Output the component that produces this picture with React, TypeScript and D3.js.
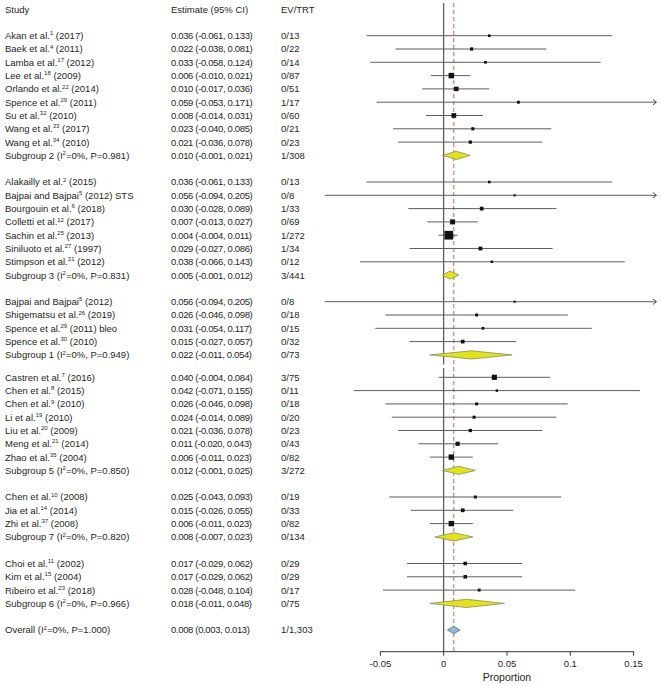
import React from "react";
import * as d3 from "d3";

type Study = {
  name: string;
  sup: string;
  tail: string;
  est: number;
  lo: number;
  hi: number;
  ev: number;
  n: number;
  printedLo?: number;
};

type Summary = {
  label: string;
  i2: number;
  p: number;
  est: number;
  lo: number;
  hi: number;
  ev: number;
  n: number;
};

const subgroup2: Study[] = [
  { name: "Akan et al.", sup: "1", tail: " (2017)", est: 0.036, lo: -0.061, hi: 0.133, ev: 0, n: 13 },
  { name: "Baek et al.", sup: "4", tail: " (2011)", est: 0.022, lo: -0.038, hi: 0.081, ev: 0, n: 22 },
  { name: "Lamba et al.", sup: "17", tail: " (2012)", est: 0.033, lo: -0.058, hi: 0.124, ev: 0, n: 14 },
  { name: "Lee et al.", sup: "18", tail: " (2009)", est: 0.006, lo: -0.01, hi: 0.021, ev: 0, n: 87 },
  { name: "Orlando et al.", sup: "22", tail: " (2014)", est: 0.01, lo: -0.017, hi: 0.036, ev: 0, n: 51 },
  { name: "Spence et al.", sup: "29", tail: " (2011)", est: 0.059, lo: -0.053, hi: 0.171, ev: 1, n: 17 },
  { name: "Su et al.", sup: "32", tail: " (2010)", est: 0.008, lo: -0.014, hi: 0.031, ev: 0, n: 60 },
  { name: "Wang et al.", sup: "33", tail: " (2017)", est: 0.023, lo: -0.04, hi: 0.085, ev: 0, n: 21 },
  { name: "Wang et al.", sup: "34", tail: " (2010)", est: 0.021, lo: -0.036, hi: 0.078, ev: 0, n: 23 },
];

const subgroup3: Study[] = [
  { name: "Alakailly et al.", sup: "2", tail: " (2015)", est: 0.036, lo: -0.061, hi: 0.133, ev: 0, n: 13 },
  { name: "Bajpai and Bajpai", sup: "5", tail: " (2012) STS", est: 0.056, lo: -0.094, hi: 0.205, ev: 0, n: 8 },
  { name: "Bourgouin et al.", sup: "6", tail: " (2018)", est: 0.03, lo: -0.028, hi: 0.089, ev: 1, n: 33 },
  { name: "Colletti et al.", sup: "12", tail: " (2017)", est: 0.007, lo: -0.013, hi: 0.027, ev: 0, n: 69 },
  { name: "Sachin et al.", sup: "25", tail: " (2013)", est: 0.004, lo: -0.004, hi: 0.011, ev: 1, n: 272 },
  { name: "Siniluoto et al.", sup: "27", tail: " (1997)", est: 0.029, lo: -0.027, hi: 0.086, ev: 1, n: 34 },
  { name: "Stimpson et al.", sup: "31", tail: " (2012)", est: 0.038, lo: -0.066, hi: 0.143, ev: 0, n: 12 },
];

const subgroup1: Study[] = [
  { name: "Bajpai and Bajpai", sup: "5", tail: " (2012)", est: 0.056, lo: -0.094, hi: 0.205, ev: 0, n: 8 },
  { name: "Shigematsu et al.", sup: "26", tail: " (2019)", est: 0.026, lo: -0.046, hi: 0.098, ev: 0, n: 18 },
  { name: "Spence et al.", sup: "29", tail: " (2011) bleo", est: 0.031, lo: -0.054, hi: 0.117, ev: 0, n: 15 },
  { name: "Spence et al.", sup: "30", tail: " (2010)", est: 0.015, lo: -0.027, hi: 0.057, ev: 0, n: 32 },
];

const subgroup5: Study[] = [
  { name: "Castren et al.", sup: "7", tail: " (2016)", est: 0.04, lo: -0.004, hi: 0.084, ev: 3, n: 75 },
  { name: "Chen et al.", sup: "8", tail: " (2015)", est: 0.042, lo: -0.071, hi: 0.155, ev: 0, n: 11 },
  { name: "Chen et al.", sup: "9", tail: " (2010)", est: 0.026, lo: -0.046, hi: 0.098, ev: 0, n: 18 },
  { name: "Li et al.", sup: "19", tail: " (2010)", est: 0.024, lo: -0.041, hi: 0.089, ev: 0, n: 20, printedLo: -0.014 },
  { name: "Liu et al.", sup: "20", tail: " (2009)", est: 0.021, lo: -0.036, hi: 0.078, ev: 0, n: 23 },
  { name: "Meng et al.", sup: "21", tail: " (2014)", est: 0.011, lo: -0.02, hi: 0.043, ev: 0, n: 43 },
  { name: "Zhao et al.", sup: "35", tail: " (2004)", est: 0.006, lo: -0.011, hi: 0.023, ev: 0, n: 82 },
];

const subgroup7: Study[] = [
  { name: "Chen et al.", sup: "10", tail: " (2008)", est: 0.025, lo: -0.043, hi: 0.093, ev: 0, n: 19 },
  { name: "Jia et al.", sup: "14", tail: " (2014)", est: 0.015, lo: -0.026, hi: 0.055, ev: 0, n: 33 },
  { name: "Zhi et al.", sup: "37", tail: " (2008)", est: 0.006, lo: -0.011, hi: 0.023, ev: 0, n: 82 },
];

const subgroup6: Study[] = [
  { name: "Choi et al.", sup: "11", tail: " (2002)", est: 0.017, lo: -0.029, hi: 0.062, ev: 0, n: 29 },
  { name: "Kim et al.", sup: "15", tail: " (2004)", est: 0.017, lo: -0.029, hi: 0.062, ev: 0, n: 29 },
  { name: "Ribeiro et al.", sup: "23", tail: " (2018)", est: 0.028, lo: -0.048, hi: 0.104, ev: 0, n: 17 },
];

const summaries: Summary[] = [
  { label: "Subgroup 2", i2: 0, p: 0.981, est: 0.01, lo: -0.001, hi: 0.021, ev: 1, n: 308 },
  { label: "Subgroup 3", i2: 0, p: 0.831, est: 0.005, lo: -0.001, hi: 0.012, ev: 3, n: 441 },
  { label: "Subgroup 1", i2: 0, p: 0.949, est: 0.022, lo: -0.011, hi: 0.054, ev: 0, n: 73 },
  { label: "Subgroup 5", i2: 0, p: 0.85, est: 0.012, lo: -0.001, hi: 0.025, ev: 3, n: 272 },
  { label: "Subgroup 7", i2: 0, p: 0.82, est: 0.008, lo: -0.007, hi: 0.023, ev: 0, n: 134 },
  { label: "Subgroup 6", i2: 0, p: 0.966, est: 0.018, lo: -0.011, hi: 0.048, ev: 0, n: 75 },
];

const overall: Summary = { label: "Overall", i2: 0, p: 1.0, est: 0.008, lo: 0.003, hi: 0.013, ev: 1, n: 1303 };

const groups: Study[][] = [subgroup2, subgroup3, subgroup1, subgroup5, subgroup7, subgroup6];

const xTicks = [-0.05, 0, 0.05, 0.1, 0.15];
const xTickLabels = ["-0.05", "0", "0.05", "0.1", "0.15"];
const pooledRef = 0.008;

const headers = ["Study", "Estimate (95% CI)", "EV/TRT"];

const FONT = "'Liberation Sans', Arial, sans-serif";

export default function App() {
  const W = 662;
  const H = 686;
  const x = d3.scaleLinear().domain([0, 0.05]).range([443.7, 507]);
  const clipHi = 0.168;
  const axisY = 651.7;
  const rowStep = 13.3;
  const row0 = 35.7;
  const breakAfter = 25;
  const rowY = (i: number) => row0 + i * rowStep - (i > breakAfter ? 4.2 : 0);
  const size = d3.scalePow().exponent(0.4).domain([0, 272]).range([0, 8.7]);
  const f3raw = d3.format(".3f");
  const f3 = (v: number) => f3raw(v).replace("\u2212", "-");
  const fc = d3.format(",");
  const colStudy = 5;
  const colEst = 171;
  const colEv = 281;
  const fs = 9.5;
  const textColor = "#231f20";

  type Row =
    | { kind: "study"; i: number; s: Study }
    | { kind: "sum"; i: number; s: Summary; overall: boolean };
  const rows: Row[] = [];
  let idx = 0;
  groups.forEach((g, gi) => {
    g.forEach((s) => rows.push({ kind: "study", i: idx++, s }));
    rows.push({ kind: "sum", i: idx++, s: summaries[gi], overall: false });
    idx++;
  });
  rows.push({ kind: "sum", i: idx, s: overall, overall: true });

  const estText = (est: number, lo: number, hi: number) => `${f3(est)} (${f3(lo)}, ${f3(hi)})`;

  const gapMid = (rowY(24) + rowY(26)) / 2;
  const topY = 3;

  return (
    <svg
      width={W}
      height={H}
      style={{ position: "absolute", left: 0, top: 0, background: "#fff" }}
      fontFamily={FONT}
      fontSize={fs}
    >
      <rect x={0} y={0} width={W} height={H} fill="#fff" />
      {headers.map((h, k) => (
        <text key={h} x={[colStudy, colEst, colEv][k]} y={10} dy="0.36em" fill={textColor}>
          {h}
        </text>
      ))}

      <line x1={x(0)} x2={x(0)} y1={topY} y2={gapMid - 1.5} stroke="#333" strokeWidth={1} />
      <line x1={x(0)} x2={x(0)} y1={gapMid + 2} y2={axisY} stroke="#333" strokeWidth={1} />
      <line
        x1={x(pooledRef)}
        x2={x(pooledRef)}
        y1={topY}
        y2={axisY}
        stroke="#e4574f"
        strokeWidth={1}
        strokeDasharray="4 3"
      />

      {rows.map((r) => {
        const y = rowY(r.i);
        if (r.kind === "study") {
          const s = r.s;
          const hiC = Math.min(s.hi, clipHi);
          const sz = size(s.n);
          const arrow = s.hi > clipHi;
          return (
            <g key={"r" + r.i}>
              <text x={colStudy} y={y} dy="0.36em" fill={textColor}>
                {s.name}
                <tspan fontSize={6} dy={-3.8}>
                  {s.sup}
                </tspan>
                <tspan dy={3.8}>{s.tail}</tspan>
              </text>
              <text x={colEst} y={y} dy="0.36em" fill={textColor} letterSpacing={-0.35}>
                {estText(s.est, s.printedLo ?? s.lo, s.hi)}
              </text>
              <text x={colEv} y={y} dy="0.36em" fill={textColor}>
                {`${s.ev}/${fc(s.n)}`}
              </text>
              <line x1={x(s.lo)} x2={x(hiC)} y1={y} y2={y} stroke="#5e5e5e" strokeWidth={1} />
              {arrow && (
                <polyline
                  points={`${x(hiC) - 3.5},${y - 2.8} ${x(hiC)},${y} ${x(hiC) - 3.5},${y + 2.8}`}
                  fill="none"
                  stroke="#444"
                  strokeWidth={1}
                />
              )}
              <rect x={x(s.est) - sz / 2} y={y - sz / 2} width={sz} height={sz} fill="#111" />
            </g>
          );
        }
        const s = r.s;
        const h = r.overall ? 3.8 : 4.1;
        const pts = `${x(s.lo)},${y} ${x(s.est)},${y - h} ${x(s.hi)},${y} ${x(s.est)},${y + h}`;
        return (
          <g key={"r" + r.i}>
            <text x={colStudy} y={y} dy="0.36em" fill={textColor}>
              {`${s.label} (I`}
              <tspan fontSize={6} dy={-3.8}>
                2
              </tspan>
              <tspan dy={3.8}>{`=${s.i2}%, P=${f3(s.p)})`}</tspan>
            </text>
            <text x={colEst} y={y} dy="0.36em" fill={textColor} letterSpacing={-0.35}>
              {estText(s.est, s.lo, s.hi)}
            </text>
            <text x={colEv} y={y} dy="0.36em" fill={textColor}>
              {`${s.ev}/${fc(s.n)}`}
            </text>
            <polygon
              points={pts}
              fill={r.overall ? "#8dbccf" : "#e2e21e"}
              stroke={r.overall ? "#5a6a70" : "#8c8c5c"}
              strokeWidth={0.8}
            />
          </g>
        );
      })}

      <line x1={x(xTicks[0])} x2={x(xTicks[xTicks.length - 1])} y1={axisY} y2={axisY} stroke="#333" strokeWidth={1} />
      {xTicks.map((t, k) => (
        <g key={"t" + k}>
          <line x1={x(t)} x2={x(t)} y1={axisY} y2={axisY + 4} stroke="#333" strokeWidth={1} />
          <text x={x(t)} y={666.5} textAnchor="middle" fill={textColor} fontSize={9.5}>
            {xTickLabels[k]}
          </text>
        </g>
      ))}
      <text x={x(0.05)} y={680.5} textAnchor="middle" fill={textColor} fontSize={10.5}>
        Proportion
      </text>
    </svg>
  );
}
